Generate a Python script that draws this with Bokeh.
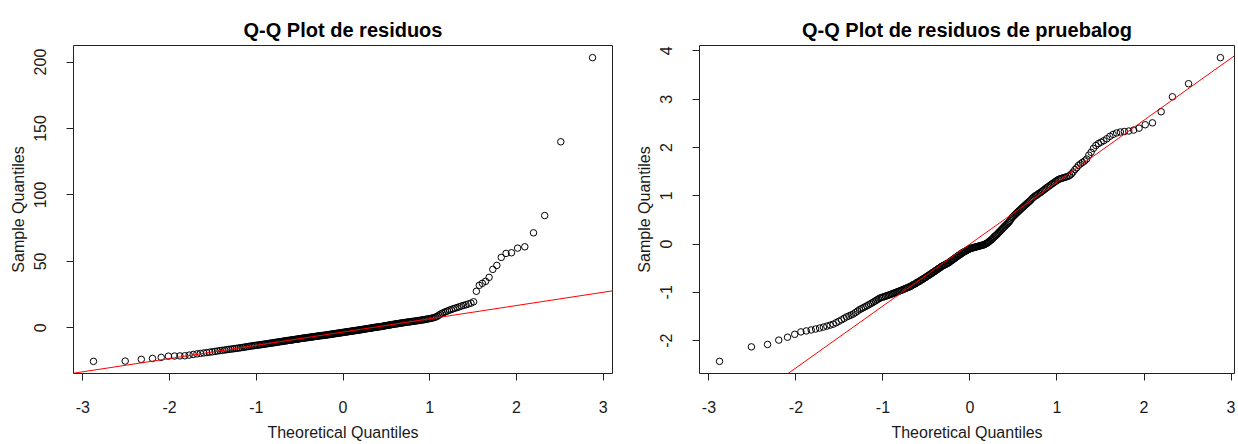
from statistics import NormalDist
import numpy as np
from bokeh.plotting import figure
from bokeh.models import Range1d, FixedTicker, Slope
from bokeh.layouts import row
from bokeh.embed import file_html
from bokeh.resources import INLINE

TITLE_L = "Q-Q Plot de residuos"
TITLE_R = "Q-Q Plot de residuos de pruebalog"
X_LABEL = "Theoretical Quantiles"
Y_LABEL = "Sample Quantiles"
X_TICKS = [-3, -2, -1, 0, 1, 2, 3]
X_TICK_LABELS = ["-3", "-2", "-1", "0", "1", "2", "3"]
Y_TICKS_L = [0, 50, 100, 150, 200]
Y_TICK_LABELS_L = ["0", "50", "100", "150", "200"]
Y_TICKS_R = [-2, -1, 0, 1, 2, 3, 4]
Y_TICK_LABELS_R = ["-2", "-1", "0", "1", "2", "3", "4"]

# sample quantiles (sorted residuals)
residuos = [
    -25.2, -25.0, -23.7, -23.0, -22.2, -21.3, -21.2, -21.1, -21.0, -20.5,
    -20.0, -19.6, -19.2, -18.9, -18.6, -18.3, -18.0, -17.7, -17.4, -17.1,
    -16.9, -16.7, -16.4, -16.2, -16.0, -15.8, -15.6, -15.4, -15.2, -15.0,
    -14.8, -14.6, -14.4, -14.2, -14.0, -13.8, -13.6, -13.5, -13.3, -13.1,
    -13.0, -12.9, -12.7, -12.6, -12.4, -12.3, -12.1, -12.0, -11.8, -11.7,
    -11.5, -11.4, -11.3, -11.1, -11.0, -10.8, -10.7, -10.6, -10.4, -10.3,
    -10.2, -10.0, -9.9, -9.8, -9.7, -9.5, -9.4, -9.3, -9.2, -9.1,
    -9.0, -8.8, -8.7, -8.6, -8.5, -8.4, -8.3, -8.1, -8.0, -7.9,
    -7.8, -7.7, -7.6, -7.5, -7.4, -7.3, -7.2, -7.1, -7.0, -6.9,
    -6.8, -6.7, -6.6, -6.5, -6.4, -6.3, -6.2, -6.1, -6.0, -5.9,
    -5.8, -5.8, -5.7, -5.6, -5.5, -5.4, -5.3, -5.2, -5.1, -5.0,
    -4.9, -4.8, -4.7, -4.6, -4.5, -4.4, -4.3, -4.2, -4.1, -4.0,
    -3.9, -3.8, -3.7, -3.6, -3.5, -3.4, -3.3, -3.2, -3.1, -3.0,
    -2.9, -2.8, -2.7, -2.6, -2.5, -2.4, -2.3, -2.2, -2.1, -2.0,
    -1.9, -1.8, -1.7, -1.6, -1.5, -1.4, -1.3, -1.2, -1.1, -1.0,
    -0.8, -0.7, -0.6, -0.5, -0.4, -0.3, -0.2, -0.1, 0.1, 0.2,
    0.3, 0.4, 0.5, 0.6, 0.7, 0.8, 0.9, 1.0, 1.1, 1.2,
    1.4, 1.6, 1.7, 1.8, 1.9, 2.1, 2.2, 2.3, 2.5, 2.6,
    2.7, 2.9, 3.0, 3.1, 3.2, 3.4, 3.5, 3.6, 3.8, 3.9,
    4.0, 4.1, 4.3, 4.4, 4.5, 4.6, 4.8, 4.9, 5.0, 5.1,
    5.3, 5.4, 5.6, 5.7, 5.9, 6.0, 6.2, 6.4, 6.6, 6.8,
    7.0, 7.2, 7.5, 7.8, 8.2, 8.8, 9.6, 10.4, 11.0, 11.6,
    12.2, 12.7, 13.3, 13.8, 14.3, 14.8, 15.3, 15.8, 16.4, 16.9,
    17.4, 18.0, 18.6, 19.6, 27.5, 32.0, 33.5, 35.0, 38.0, 44.0,
    47.0, 53.0, 56.0, 56.5, 60.0, 61.0, 71.5, 84.5, 140.0, 203.3,
]

residuos_log = [
    -2.43, -2.13, -2.08, -1.99, -1.93, -1.87, -1.82, -1.80, -1.78, -1.76,
    -1.74, -1.72, -1.70, -1.68, -1.66, -1.63, -1.60, -1.57, -1.54, -1.51,
    -1.49, -1.47, -1.45, -1.42, -1.39, -1.36, -1.34, -1.32, -1.30, -1.28,
    -1.26, -1.24, -1.22, -1.20, -1.18, -1.16, -1.14, -1.12, -1.11, -1.10,
    -1.09, -1.08, -1.07, -1.06, -1.05, -1.04, -1.03, -1.02, -1.01, -1.00,
    -0.99, -0.98, -0.97, -0.96, -0.95, -0.94, -0.93, -0.92, -0.91, -0.90,
    -0.89, -0.88, -0.87, -0.85, -0.84, -0.83, -0.82, -0.80, -0.79, -0.78,
    -0.77, -0.75, -0.74, -0.73, -0.71, -0.70, -0.69, -0.67, -0.66, -0.65,
    -0.63, -0.62, -0.61, -0.59, -0.58, -0.57, -0.55, -0.54, -0.53, -0.51,
    -0.50, -0.49, -0.47, -0.46, -0.45, -0.44, -0.43, -0.42, -0.41, -0.40,
    -0.39, -0.38, -0.36, -0.35, -0.34, -0.32, -0.31, -0.30, -0.28, -0.27,
    -0.26, -0.24, -0.23, -0.22, -0.21, -0.19, -0.18, -0.17, -0.16, -0.15,
    -0.14, -0.13, -0.12, -0.11, -0.10, -0.09, -0.09, -0.08, -0.08, -0.07,
    -0.07, -0.06, -0.06, -0.05, -0.05, -0.04, -0.04, -0.03, -0.03, -0.02,
    -0.02, -0.01, 0.00, 0.01, 0.02, 0.03, 0.05, 0.06, 0.08, 0.09,
    0.11, 0.13, 0.15, 0.17, 0.18, 0.20, 0.22, 0.24, 0.26, 0.28,
    0.30, 0.32, 0.34, 0.36, 0.38, 0.40, 0.42, 0.44, 0.46, 0.49,
    0.52, 0.55, 0.57, 0.59, 0.61, 0.63, 0.65, 0.67, 0.69, 0.71,
    0.73, 0.75, 0.77, 0.79, 0.81, 0.83, 0.85, 0.87, 0.89, 0.91,
    0.94, 0.96, 0.98, 1.00, 1.01, 1.03, 1.05, 1.06, 1.08, 1.10,
    1.12, 1.14, 1.16, 1.18, 1.20, 1.22, 1.24, 1.26, 1.28, 1.30,
    1.32, 1.34, 1.35, 1.36, 1.37, 1.38, 1.39, 1.40, 1.42, 1.45,
    1.49, 1.54, 1.58, 1.63, 1.66, 1.69, 1.72, 1.76, 1.84, 1.90,
    1.98, 2.04, 2.08, 2.11, 2.14, 2.18, 2.23, 2.27, 2.30, 2.32,
    2.33, 2.34, 2.36, 2.40, 2.47, 2.51, 2.74, 3.05, 3.32, 3.86,
]

FONT = "Liberation Sans"
TEXT_COLOR = "#1a1a1a"
ND = NormalDist()
LIFT = 8  # figure is pulled up by this much so the title sits closer to the top


def theoretical_quantiles(n):
    # R's qqnorm: qnorm(ppoints(n)), ppoints(n) = (i - 0.5) / n for n > 10
    return np.array([ND.inv_cdf((i - 0.5) / n) for i in range(1, n + 1)])


def make_panel(sample, title, y_ticks, y_labels, width, left, right, x_end=None):
    y = np.sort(np.asarray(sample, dtype=float))
    x = theoretical_quantiles(len(y))
    xpad = 0.04 * (x.max() - x.min())
    ypad = 0.04 * (y.max() - y.min())
    x0, x1 = x.min() - xpad, x.max() + xpad
    if x_end is not None:
        x1 = x_end
    p = figure(width=width, height=444 + LIFT, output_backend="svg", toolbar_location=None,
               x_range=Range1d(x0, x1), y_range=Range1d(y.min() - ypad, y.max() + ypad),
               min_border_left=left, min_border_right=right,
               min_border_top=45 + LIFT, min_border_bottom=71)
    p.margin = (-LIFT, 0, 0, 0)
    p.title.text = title
    p.title.align = "center"
    p.title.text_font = FONT
    p.title.text_font_size = "20px"
    p.title.text_font_style = "bold"
    p.title.text_color = "black"

    p.xaxis.ticker = FixedTicker(ticks=X_TICKS)
    p.xaxis.major_label_overrides = dict(zip(X_TICKS, X_TICK_LABELS))
    p.yaxis.ticker = FixedTicker(ticks=y_ticks)
    p.yaxis.major_label_overrides = dict(zip(y_ticks, y_labels))
    p.xaxis.axis_label = X_LABEL
    p.yaxis.axis_label = Y_LABEL
    for ax in (p.xaxis[0], p.yaxis[0]):
        ax.axis_line_color = None
        ax.major_tick_line_color = "#222222"
        ax.major_tick_out = 7
        ax.major_tick_in = 0
        ax.minor_tick_line_color = None
        ax.major_label_text_font = FONT
        ax.major_label_text_font_size = "16px"
        ax.major_label_text_color = TEXT_COLOR
        ax.axis_label_text_font = FONT
        ax.axis_label_text_font_size = "16px"
        ax.axis_label_text_font_style = "normal"
        ax.axis_label_text_color = TEXT_COLOR
    p.yaxis.major_label_orientation = "vertical"
    p.xaxis.major_label_standoff = 20
    p.xaxis.axis_label_standoff = 8
    p.yaxis.major_label_standoff = 20
    p.yaxis.axis_label_standoff = 5

    p.xgrid.visible = False
    p.ygrid.visible = False
    p.outline_line_color = "#222222"
    p.outline_line_width = 1
    p.outline_line_alpha = 1.0
    p.background_fill_color = "white"
    p.border_fill_color = "white"

    p.scatter(x, y, marker="circle", size=6.5, fill_color=None,
              line_color="black", line_width=1)

    # qqline: through the first and third quartiles
    q1, q3 = np.quantile(y, [0.25, 0.75])
    xq1, xq3 = ND.inv_cdf(0.25), ND.inv_cdf(0.75)
    slope = (q3 - q1) / (xq3 - xq1)
    icpt = q1 - slope * xq1
    p.add_layout(Slope(gradient=slope, y_intercept=icpt, line_color="red", line_width=1))
    return p


p1 = make_panel(residuos, TITLE_L, Y_TICKS_L, Y_TICK_LABELS_L, 632, 73, 20)
p2 = make_panel(residuos_log, TITLE_R, Y_TICKS_R, Y_TICK_LABELS_R, 606, 65, 4, x_end=3.04)

layout = row(p1, p2, spacing=0)
open("out.html", "w").write(file_html(layout, INLINE))
